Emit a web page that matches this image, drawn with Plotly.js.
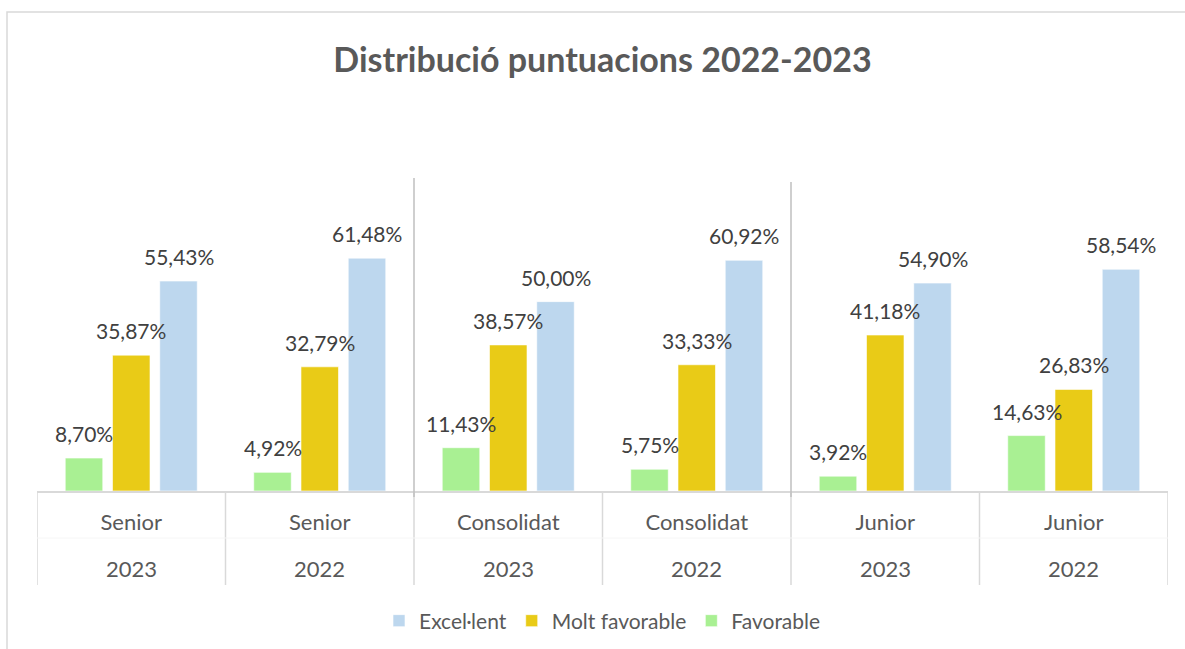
<!DOCTYPE html>
<html>
<head>
<meta charset="utf-8">
<script src="https://cdn.plot.ly/plotly-3.0.1.min.js"></script>
<style>html,body{margin:0;padding:0;background:#fff;}#chart{width:1185px;height:649px;}</style>
</head>
<body>
<div id="chart"></div>
<script>
const groups = ["Senior", "Senior", "Consolidat", "Consolidat", "Junior", "Junior"];
const years = ["2023", "2022", "2023", "2022", "2023", "2022"];
const favorable = [8.70, 4.92, 11.43, 5.75, 3.92, 14.63];
const moltFavorable = [35.87, 32.79, 38.57, 33.33, 41.18, 26.83];
const excellent = [55.43, 61.48, 50.00, 60.92, 54.90, 58.54];
const seriesNames = ["Favorable", "Molt favorable", "Excel·lent"];
const chartTitle = "Distribució puntuacions 2022-2023";

const colors = ["#A9F093", "#E9CB17", "#BDD7EE"];
const seriesData = [favorable, moltFavorable, excellent];
const idx = groups.map((_, i) => i);

const FONT = "Lato, 'Noto Sans', sans-serif";
const W = 1185, H = 649;
const L = 37, R = 1168, T = 188, B = 491;
const pw = R - L, ph = B - T;
const px = v => (v - L) / pw;
const py = v => (B - v) / ph;

const bargap = 0.248, bargroupgap = 0.206;
const slot = (1 - bargap) / seriesData.length;

const traces = seriesData.map((vals, s) => ({
  type: "bar",
  name: seriesNames[s],
  x: idx,
  y: vals,
  marker: {color: colors[s], line: {color: "rgba(255,255,255,0.6)", width: 1}},
  hoverinfo: "skip"
}));

const fmt = v => v.toFixed(2).replace(".", ",") + "%";
const annotations = [];
seriesData.forEach((vals, s) => {
  vals.forEach((v, i) => {
    annotations.push({
      x: i + (s - (seriesData.length - 1) / 2) * slot,
      y: v, xref: "x", yref: "y",
      text: fmt(v), showarrow: false,
      yanchor: "bottom", yshift: 10,
      font: {family: FONT, size: 21, color: "#404040"}
    });
  });
});
years.forEach((yr, i) => {
  annotations.push({
    x: i, y: py(568), xref: "x", yref: "paper", yanchor: "middle",
    text: yr, showarrow: false,
    font: {family: FONT, size: 22, color: "#595959"}
  });
});

const lineCol = "#D9D9D9";
const shapes = [];
shapes.push({type: "rect", xref: "paper", yref: "paper", x0: px(7), x1: px(1195), y0: py(12), y1: py(660),
  line: {color: lineCol, width: 1.5}, fillcolor: "rgba(0,0,0,0)", layer: "below"});
for (let i = 0; i <= groups.length; i++) {
  shapes.push({type: "line", xref: "x", yref: "paper", x0: i - 0.5, x1: i - 0.5, y0: 0, y1: py(585),
    line: {color: lineCol, width: 1.5}});
}
shapes.push({type: "line", xref: "paper", yref: "paper", x0: 0, x1: 1, y0: py(538), y1: py(538),
  line: {color: "#F6F6F6", width: 1}});
[[1.5, 178], [3.5, 182]].forEach(([xv, top]) => {
  shapes.push({type: "line", xref: "x", yref: "paper", x0: xv, x1: xv, y0: py(497), y1: py(top),
    line: {color: "#BFBFBF", width: 1.5}});
});

const layout = {
  width: W, height: H,
  margin: {l: L, r: W - R, t: T, b: H - B, pad: 0},
  paper_bgcolor: "#fff", plot_bgcolor: "#fff",
  title: {
    text: "<b>" + chartTitle + "</b>",
    font: {family: FONT, size: 34, color: "#595959"},
    x: 0.5, xref: "paper", y: 1 - 60 / H, yref: "container", yanchor: "middle"
  },
  barmode: "group", bargap: bargap, bargroupgap: bargroupgap,
  xaxis: {
    type: "linear", range: [-0.5, groups.length - 0.5], fixedrange: true,
    tickvals: idx, ticktext: groups,
    ticks: "", ticklabelstandoff: 11,
    tickfont: {family: FONT, size: 22, color: "#595959"},
    showgrid: false, zeroline: false, showline: true, linecolor: lineCol, linewidth: 1.5
  },
  yaxis: {range: [0, 80], visible: false, showgrid: false, zeroline: false, fixedrange: true},
  legend: {
    orientation: "h", x: 0.5, xanchor: "center",
    y: 1 - 621 / H, yref: "container", yanchor: "middle",
    traceorder: "reversed",
    font: {family: FONT, size: 21, color: "#595959"},
    itemwidth: 30
  },
  annotations: annotations,
  shapes: shapes,
  showlegend: true
};

Plotly.newPlot("chart", traces, layout, {displayModeBar: false, staticPlot: true});
</script>
</body>
</html>
